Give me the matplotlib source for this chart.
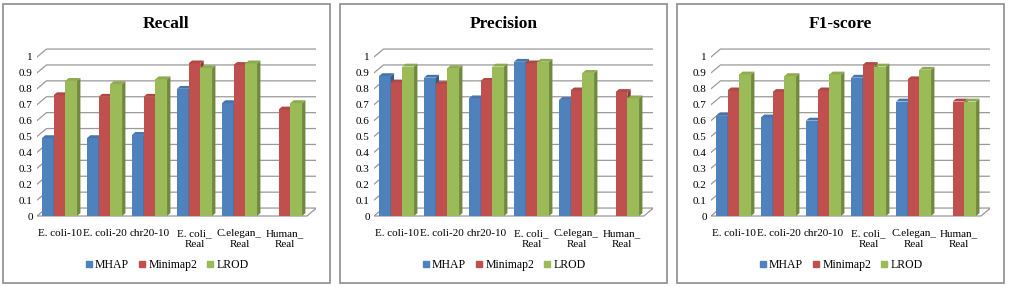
import numpy as np
import matplotlib
matplotlib.use("Agg")
import matplotlib.pyplot as plt
from matplotlib.patches import Polygon, Rectangle
from matplotlib.lines import Line2D

categories = ["E. coli-10", "E. coli-20", "chr20-10", "E. coli_\nReal", "C.elegan_\nReal", "Human_\nReal"]
series = ["MHAP", "Minimap2", "LROD"]

recall_mhap = [0.49, 0.49, 0.51, 0.80, 0.71, 0.0]
recall_minimap2 = [0.76, 0.75, 0.75, 0.96, 0.95, 0.67]
recall_lrod = [0.85, 0.83, 0.86, 0.93, 0.96, 0.71]

precision_mhap = [0.88, 0.87, 0.74, 0.97, 0.73, 0.0]
precision_minimap2 = [0.84, 0.83, 0.85, 0.96, 0.79, 0.78]
precision_lrod = [0.94, 0.93, 0.94, 0.97, 0.90, 0.74]

f1_mhap = [0.63, 0.62, 0.60, 0.87, 0.72, 0.0]
f1_minimap2 = [0.79, 0.78, 0.79, 0.95, 0.86, 0.72]
f1_lrod = [0.89, 0.88, 0.89, 0.94, 0.92, 0.72]

panels = [
    ("Recall", [recall_mhap, recall_minimap2, recall_lrod]),
    ("Precision", [precision_mhap, precision_minimap2, precision_lrod]),
    ("F1-score", [f1_mhap, f1_minimap2, f1_lrod]),
]

FRONT = ["#4F81BD", "#C0504D", "#9BBB59"]
SIDE = ["#385D8A", "#8C3836", "#71893F"]
TOP = ["#4675AC", "#B04946", "#8DAB50"]
GRID = "#9a9a9a"

plt.rcParams["font.family"] = ["Liberation Serif", "DejaVu Serif"]

W, H = 1009, 287
fig = plt.figure(figsize=(W / 100, H / 100), dpi=100)

DX, DY = 0.21, 0.05      # profundidade da parede (unid. categoria / unid. y)
BDX, BDY = 0.075, 0.018  # profundidade das barras
BW = 0.26
Y0, Y1 = -0.03, 1.07

panel_left = [3, 340, 677]
panel_w = 327


def px(x, y, w, h):
    # retângulo em pixels (origem no topo) -> fração da figura
    return [x / W, 1 - (y + h) / H, w / W, h / H]


for (title, vals), pl in zip(panels, panel_left):
    fig.add_artist(Rectangle((pl / W, 1 - 283 / H), panel_w / W, 279 / H,
                             transform=fig.transFigure, fill=False,
                             edgecolor="#8c8c8c", lw=1.2))
    x0 = pl + 34
    n = len(categories)
    wpx = 45 * (n + DX)
    top_px = 57 - (Y1 - 1) * 159
    hpx = (Y1 - Y0) * 159
    ax = fig.add_axes(px(x0, top_px, wpx, hpx))
    ax.set_xlim(-0.5, n - 0.5 + DX)
    ax.set_ylim(Y0, Y1)
    for s in ax.spines.values():
        s.set_visible(False)

    xa, xb = -0.5, n - 0.5
    ticks = np.round(np.arange(0.1, 1.01, 0.1), 1)
    for v in ticks:
        ax.plot([xa, xa + DX, xb + DX], [v, v + DY, v + DY], color=GRID, lw=0.9, zorder=1)
    ax.add_patch(Polygon([(xa, 0), (xb, 0), (xb + DX, DY), (xa + DX, DY)],
                         closed=True, fill=False, edgecolor=GRID, lw=0.9, zorder=1))

    xs = np.arange(n)
    z = 2
    for i in range(n):
        for k in range(3):
            v = vals[k][i]
            if v <= 0:
                continue
            xl = xs[i] + (k - 1) * BW - BW / 2
            ax.bar(xl, v, width=BW, align="edge", color=FRONT[k], lw=0, zorder=z)
            xr = xl + BW
            ax.add_patch(Polygon([(xr, 0), (xr + BDX, BDY), (xr + BDX, v + BDY), (xr, v)],
                                 closed=True, facecolor=SIDE[k], lw=0, zorder=z))
            ax.add_patch(Polygon([(xl, v), (xr, v), (xr + BDX, v + BDY), (xl + BDX, v + BDY)],
                                 closed=True, facecolor=TOP[k], lw=0, zorder=z))
            z += 1

    ax.set_yticks([0] + list(ticks))
    ax.set_yticklabels(["0"] + [f"{t:g}" for t in ticks])
    ax.set_xticks(xs)
    ax.set_xticklabels(categories, linespacing=1.3)
    ax.tick_params(axis="both", length=0, labelsize=8)
    ax.tick_params(axis="y", pad=3)
    ax.tick_params(axis="x", pad=6)

    cx = (pl + panel_w / 2) / W
    fig.text(cx, 1 - 24 / H, title, ha="center", va="center",
             fontsize=12.5, fontweight="bold")

    handles = [Line2D([], [], marker="s", ls="", markersize=5,
                      markerfacecolor=c, markeredgecolor=c) for c in FRONT]
    fig.legend(handles, series, loc="center", bbox_to_anchor=(cx, 1 - 265 / H),
               ncol=3, frameon=False, fontsize=8.5, handletextpad=0.15,
               columnspacing=0.7, handlelength=0.8)

fig.savefig("out.png", dpi=100)
